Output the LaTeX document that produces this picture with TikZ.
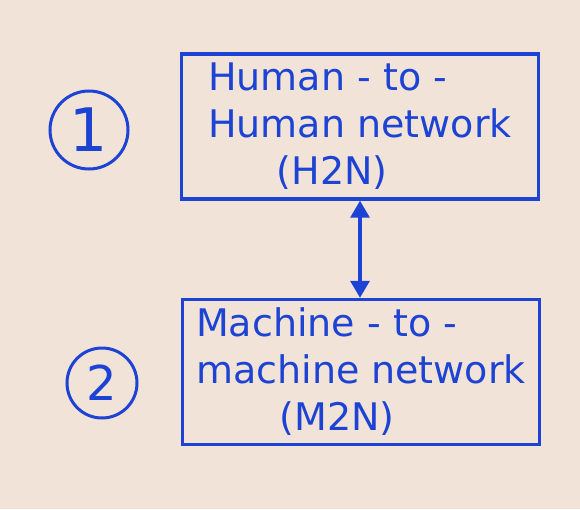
\documentclass[tikz,border=0pt]{standalone}
\usepackage{fontspec}
\setmainfont{DejaVu Sans}
\usetikzlibrary{arrows.meta}
\definecolor{bg}{HTML}{F2E3D8}
\definecolor{ink}{HTML}{1C43D4}
\begin{document}
\begin{tikzpicture}[x=1pt,y=-1pt,
  box/.style={draw=ink,line width=3.4pt,minimum width=357pt,minimum height=145pt,inner sep=0pt,align=left,text=ink,font=\fontsize{38}{47}\selectfont},
  num/.style={circle,draw=ink,line width=3pt,inner sep=0pt,text=ink},
  link/.style={draw=ink,line width=3.2pt,{Triangle[width=19pt,length=17pt]}-{Triangle[width=19pt,length=17pt]}}]
\fill[bg] (0,0) rectangle (580,509);
\useasboundingbox (0,0) rectangle (580,509);
\node[box] (h2n) at (360,126.5) {Human - to -\\Human network\\\hspace*{1.8em}(H2N)};
\node[box] (m2n) at (361,372) {Machine - to -\\machine network\\\hspace*{2.2em}(M2N)};
\node[num,minimum size=78pt,font=\fontsize{60}{60}\selectfont] (n1) at (89,130) {1};
\node[num,minimum size=70pt,font=\fontsize{48}{48}\selectfont] (n2) at (102,383) {2};
\draw[link] (h2n.south) -- (h2n.south |- m2n.north);
\end{tikzpicture}
\end{document}
